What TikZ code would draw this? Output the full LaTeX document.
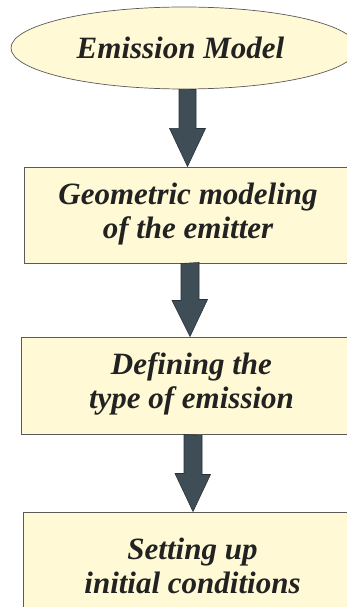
\documentclass[tikz,border=0pt]{standalone}
\usepackage{fontspec}
\setmainfont{Liberation Serif}
\usetikzlibrary{shapes.geometric}
\definecolor{boxfill}{HTML}{FFFAD5}
\definecolor{boxline}{HTML}{5A5A5A}
\definecolor{arrfill}{HTML}{3F4D57}
\definecolor{arrline}{HTML}{2A3238}
\definecolor{txt}{HTML}{222222}
\begin{document}
\begin{tikzpicture}[x=1pt,y=-1pt,
  lbl/.style={font=\fontsize{31}{34}\selectfont\bfseries\itshape, text=txt, align=center, inner sep=0pt},
  stepbox/.style={draw=boxline, line width=1pt, fill=boxfill, rectangle, inner sep=0pt},
  startell/.style={draw=boxline, line width=0.7pt, fill=boxfill, ellipse, inner sep=0pt},
  fat/.style={draw=arrline, line width=0.6pt, fill=arrfill, line join=miter}]
\useasboundingbox (0,0) rectangle (347,607);
\clip (0,0) rectangle (347,607);
% start ellipse
\node[startell, minimum width=346pt, minimum height=82pt] (e) at (184,48) {};
\node[lbl] (et) at (180.5,48) {Emission Model};
% boxes
\node[stepbox, minimum width=326pt, minimum height=96pt] (b1) at (187,215) {};
\node[lbl] (t1) at (188,214) {Geometric modeling\\of the emitter};
\node[stepbox, minimum width=338pt, minimum height=97pt] (b2) at (190,385.5) {};
\node[lbl] (t2) at (191.5,384) {Defining the\\type of emission};
\node[stepbox, minimum width=340pt, minimum height=112pt] (b3) at (193,568) {};
\node[lbl] (t3) at (192.5,566) {Setting up\\initial conditions};
% arrow anchors
\coordinate (a1) at (e.south -| 187.5,0);
\coordinate (a2) at (b1.south -| 190,0);
\coordinate (a3) at (b2.south -| 193,0);
% arrows
\draw[fat] (a1) ++(-8.5,0) -- ++(0,39) -- ++(-9.5,0) -- (a1 |- b1.north) -- ++(18,-38) -- ++(-9.5,0) -- ++(0,-39) -- cycle;
\draw[fat] (a2) ++(-9,0) -- ++(0,37) -- ++(-9,0) -- (a2 |- b2.north) -- ++(17.5,-37) -- ++(-8.5,0) -- ++(0,-37) -- cycle;
\draw[fat] (a3) ++(-9,0) -- ++(0,39) -- ++(-9,0) -- (a3 |- b3.north) -- ++(17.5,-37) -- ++(-8.5,0) -- ++(0,-39) -- cycle;
\end{tikzpicture}
\end{document}
